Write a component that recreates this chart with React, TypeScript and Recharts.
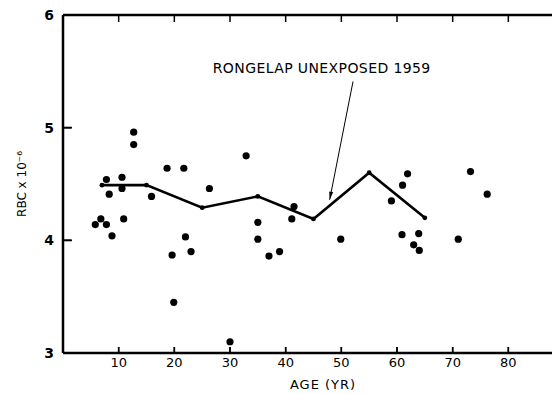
import {
  ComposedChart,
  Scatter,
  XAxis,
  YAxis,
  ReferenceLine,
  ReferenceDot,
} from "recharts";

// individual subjects, age (yr) vs RBC x 10^-6
const ages = [
  5.8, 6.8, 7.8, 8.8, 7.8, 8.3, 10.6, 10.6, 10.9, 12.7, 12.7, 15.9, 18.7,
  19.6, 19.9, 21.7, 22, 23, 26.3, 30, 32.9, 35, 35, 37, 38.9, 41.1, 41.5,
  49.9, 59, 60.9, 61, 61.9, 63, 63.9, 64, 71, 73.2, 76.2,
];
const rbc = [
  4.14, 4.19, 4.14, 4.04, 4.54, 4.41, 4.56, 4.46, 4.19, 4.96, 4.85, 4.39,
  4.64, 3.87, 3.45, 4.64, 4.03, 3.9, 4.46, 3.1, 4.75, 4.16, 4.01, 3.86, 3.9,
  4.19, 4.3, 4.01, 4.35, 4.05, 4.49, 4.59, 3.96, 4.06, 3.91, 4.01, 4.61,
  4.41,
];

// decade means (the solid line)
const meanAges = [7, 15, 25, 35, 45, 55, 65];
const meanRbc = [4.49, 4.49, 4.29, 4.39, 4.19, 4.6, 4.2];

const xTicks = [10, 20, 30, 40, 50, 60, 70, 80];
const yTicks = [3, 4, 5, 6];
const note = "RONGELAP UNEXPOSED 1959";

const points = ages.map((a, i) => ({ age: a, rbc: rbc[i] }));
const means = meanAges.map((a, i) => ({ age: a, rbc: meanRbc[i] }));
// inward tick marks on the frame
const topMarks = xTicks.map((t) => ({ age: t, rbc: 6 }));
const bottomMarks = xTicks.map((t) => ({ age: t, rbc: 3 }));
const leftMarks = [4, 5].map((v) => ({ age: 0, rbc: v }));

const FONT = "'DejaVu Sans', sans-serif";

const Dot = (p: any) => <circle cx={p.cx} cy={p.cy} r={3.6} fill="#000" />;
const Node = (p: any) => <circle cx={p.cx} cy={p.cy} r={2.4} fill="#000" />;
const TopMark = (p: any) => (
  <line x1={p.cx} y1={p.cy} x2={p.cx} y2={p.cy + 7} stroke="#000" strokeWidth={1.5} />
);
const BottomMark = (p: any) => (
  <line x1={p.cx} y1={p.cy} x2={p.cx} y2={p.cy - 6} stroke="#000" strokeWidth={1.5} />
);
const LeftMark = (p: any) => (
  <line x1={p.cx} y1={p.cy} x2={p.cx + 9} y2={p.cy} stroke="#000" strokeWidth={1.8} />
);

const Arrow = (p: any) => {
  const { x1, y1, x2, y2 } = p;
  const dx = x2 - x1;
  const dy = y2 - y1;
  const len = Math.sqrt(dx * dx + dy * dy);
  const ux = dx / len;
  const uy = dy / len;
  const bx = x2 - ux * 8;
  const by = y2 - uy * 8;
  return (
    <g>
      <line x1={x1} y1={y1} x2={x2} y2={y2} stroke="#000" strokeWidth={1} />
      <polygon
        points={`${x2},${y2} ${bx - uy * 2},${by + ux * 2} ${bx + uy * 2},${by - ux * 2}`}
        fill="#000"
      />
    </g>
  );
};

export default function App() {
  return (
    <div
      style={{
        position: "absolute",
        left: 0,
        top: 0,
        width: 552,
        height: 394,
        overflow: "hidden",
        background: "#fff",
      }}
    >
      <ComposedChart
        width={564}
        height={394}
        margin={{ top: 15, right: 0, left: 0, bottom: 0 }}
      >
        <XAxis
          type="number"
          dataKey="age"
          domain={[0, 90]}
          ticks={xTicks}
          interval={0}
          height={41}
          tickSize={-6}
          tickMargin={11}
          axisLine={{ stroke: "#000", strokeWidth: 2.5 }}
          tickLine={{ stroke: "#000", strokeWidth: 1.5 }}
          tick={{ fill: "#000", fontSize: 13, fontFamily: FONT }}
          label={{
            content: () => (
              <text
                x={323}
                y={389}
                textAnchor="middle"
                fontSize={13}
                fontFamily={FONT}
                letterSpacing={1}
                fill="#000"
              >
                AGE (YR)
              </text>
            ),
          }}
        />
        <YAxis
          type="number"
          dataKey="rbc"
          domain={[3, 6]}
          ticks={yTicks}
          interval={0}
          width={63}
          tickSize={-8}
          tickMargin={17}
          axisLine={{ stroke: "#000", strokeWidth: 2.5 }}
          tickLine={{ stroke: "#000", strokeWidth: 1.5 }}
          tick={{ fill: "#000", fontSize: 14, fontWeight: "bold", fontFamily: FONT }}
          label={{
            content: () => (
              <text
                x={26}
                y={184}
                transform="rotate(-90 26 184)"
                textAnchor="middle"
                fontSize={12}
                fontFamily={FONT}
                fill="#000"
              >
                RBC x 10⁻⁶
              </text>
            ),
          }}
        />
        {/* top frame */}
        <ReferenceLine y={6} stroke="#000" strokeWidth={2.5} />
        <ReferenceLine
          segment={[
            { x: 52.1, y: 5.41 },
            { x: 47.9, y: 4.36 },
          ]}
          shape={<Arrow />}
        />
        <ReferenceDot
          x={26.9}
          y={5.53}
          r={0}
          stroke="none"
          label={{
            content: (p: any) => (
              <text
                x={p.viewBox.x}
                y={p.viewBox.y + 5}
                fontSize={14}
                letterSpacing={0.4}
                fontFamily={FONT}
                fill="#000"
              >
                {note}
              </text>
            ),
          }}
        />
        <Scatter data={topMarks} shape={<TopMark />} isAnimationActive={false} />
        <Scatter data={bottomMarks} shape={<BottomMark />} isAnimationActive={false} />
        <Scatter data={leftMarks} shape={<LeftMark />} isAnimationActive={false} />
        <Scatter
          data={means}
          line={{ stroke: "#000", strokeWidth: 2.6 }}
          lineType="joint"
          shape={<Node />}
          isAnimationActive={false}
        />
        <Scatter data={points} shape={<Dot />} isAnimationActive={false} />
      </ComposedChart>
    </div>
  );
}
